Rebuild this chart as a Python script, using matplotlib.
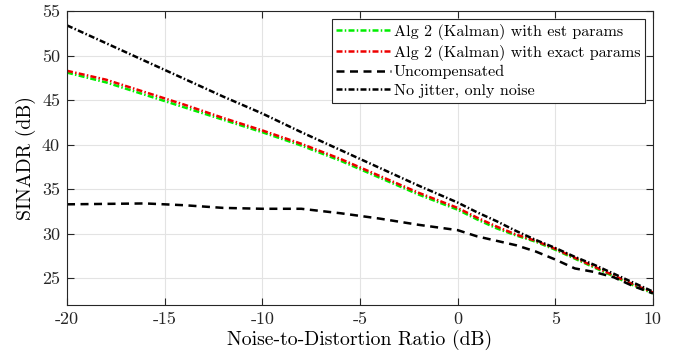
import numpy as np
import matplotlib
matplotlib.use("Agg")
import matplotlib.pyplot as plt

plt.rcParams['font.family'] = 'serif'
plt.rcParams['font.serif'] = ['cmr10']
plt.rcParams['mathtext.fontset'] = 'cm'
plt.rcParams['axes.unicode_minus'] = False
plt.rcParams['axes.formatter.use_mathtext'] = False

# noise-to-distortion ratio (dB)
nsr = [-20, -18, -16, -14, -12, -10, -8, -6, -4, -2, 0, 1, 2, 3, 4, 5, 6, 7, 8, 9, 10]

# SINADR (dB) per method
kalman_est = [48.1, 47.0, 45.6, 44.2, 42.8, 41.4, 39.9, 38.2, 36.3, 34.4, 32.7,
              31.6, 30.6, 29.8, 29.1, 28.2, 27.2, 26.2, 25.2, 24.2, 23.3]
kalman_exact = [48.3, 47.3, 45.9, 44.5, 43.0, 41.6, 40.1, 38.4, 36.5, 34.6, 32.9,
                31.8, 30.8, 29.9, 29.2, 28.3, 27.3, 26.3, 25.3, 24.3, 23.4]
uncomp = [33.3, 33.35, 33.4, 33.2, 32.9, 32.8, 32.8, 32.3, 31.7, 31.0, 30.4,
          29.7, 29.2, 28.7, 28.0, 27.1, 26.1, 25.7, 25.1, 24.1, 23.3]
no_jitter = [53.4, 51.4, 49.4, 47.4, 45.4, 43.5, 41.4, 39.4, 37.4, 35.4, 33.5,
             32.4, 31.4, 30.3, 29.3, 28.4, 27.4, 26.5, 25.5, 24.5, 23.5]

labels = ['Alg 2 (Kalman) with est params', 'Alg 2 (Kalman) with exact params',
          'Uncompensated', 'No jitter, only noise']

fig = plt.figure(figsize=(6.75, 3.6), dpi=100)
ax = fig.add_axes([0.0993, 0.153, 0.868, 0.816])

lw = 1.8
dd = (2.4, 0.9, 0.6, 0.9)
ax.plot(nsr, kalman_est, color='#00ee00', lw=lw, dashes=dd, label=labels[0])
ax.plot(nsr, kalman_exact, color='#ee0000', lw=lw, dashes=dd, label=labels[1])
ax.plot(nsr, uncomp, color='black', lw=lw, dashes=(3.2, 2.2), label=labels[2])
ax.plot(nsr, no_jitter, color='black', lw=lw, dashes=dd, label=labels[3])

ax.set_xlim(-20, 10)
ax.set_ylim(22, 55)
ax.set_xticks([-20, -15, -10, -5, 0, 5, 10])
ax.set_yticks([25, 30, 35, 40, 45, 50, 55])
ax.grid(True, color='#e3e3e3', lw=0.8)
ax.set_axisbelow(True)
ax.tick_params(direction='in', top=True, right=True, length=5, width=0.8,
               labelsize=13, colors='#262626', pad=5)
for s in ax.spines.values():
    s.set_color('#262626')
    s.set_linewidth(0.8)

ax.set_xlabel('Noise-to-Distortion Ratio (dB)', fontsize=14.2, labelpad=2)
ax.set_ylabel('SINADR (dB)', fontsize=14.2, labelpad=4)

leg = ax.legend(loc='upper right', fontsize=11.6, handlelength=3.4, handletextpad=0.15,
                labelspacing=0.28, borderaxespad=0.5, fancybox=False, framealpha=1,
                edgecolor='#262626', borderpad=0.3)
leg.get_frame().set_linewidth(0.8)

fig.savefig('out.png', dpi=100)
